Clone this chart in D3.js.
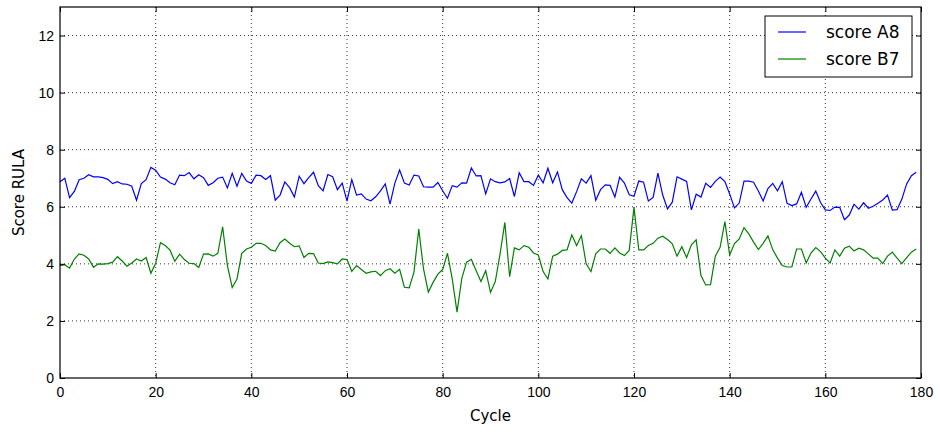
<!DOCTYPE html>
<html lang="en">
<head>
<meta charset="UTF-8">
<title>Score RULA</title>
<script src="https://cdn.jsdelivr.net/npm/d3@7/dist/d3.min.js"></script>
<style>
  body { margin: 0; background: #fff; }
  svg { font-family: "DejaVu Sans", sans-serif; }
  .grid line { stroke: #000; stroke-dasharray: 1,3; stroke-opacity: 0.8; }
</style>
</head>
<body>
<script>
// values
var scoreA8 = [
  6.88, 7.0, 6.32, 6.54, 6.95, 7.0, 7.12, 7.05, 7.05, 7.02,
  6.96, 6.81, 6.88, 6.8, 6.79, 6.72, 6.23, 6.81, 6.95, 7.38,
  7.28, 7.04, 6.97, 6.84, 6.77, 7.11, 7.09, 7.2, 6.98, 7.12,
  7.02, 6.75, 6.84, 7.0, 7.04, 6.66, 7.17, 6.72, 7.17, 6.9,
  6.82, 7.11, 7.09, 6.96, 7.09, 6.23, 6.41, 6.87, 6.67, 6.34,
  7.07, 6.81, 7.02, 7.21, 6.74, 6.56, 7.13, 7.05, 6.6, 6.83,
  6.2, 6.95, 6.41, 6.45, 6.27, 6.21, 6.35, 6.56, 6.8, 6.09,
  6.83, 7.29, 6.83, 6.76, 7.11, 7.08, 6.7, 6.69, 6.69, 6.85,
  6.56, 6.3, 6.74, 6.69, 6.84, 6.83, 7.36, 7.08, 7.09, 6.45,
  6.98, 6.88, 6.84, 6.87, 6.99, 6.36, 7.19, 6.88, 6.88, 6.75,
  7.11, 6.84, 7.35, 6.84, 7.22, 6.6, 6.32, 6.13, 6.53, 6.98,
  6.83, 7.09, 6.23, 6.6, 6.77, 6.75, 6.34, 7.03, 6.83, 6.42,
  6.37, 6.9, 6.86, 6.2, 6.33, 7.18, 6.41, 5.92, 6.16, 7.05,
  6.97, 6.89, 5.89, 6.44, 6.34, 6.82, 6.68, 6.89, 7.04, 6.88,
  6.45, 5.96, 6.13, 6.9, 6.9, 6.86, 6.55, 6.2, 6.64, 6.82,
  6.56, 6.88, 6.12, 6.04, 6.1, 6.51, 5.98, 6.27, 6.55, 6.15,
  5.89, 5.87, 5.99, 5.98, 5.55, 5.71, 6.09, 5.92, 6.14, 5.95,
  6.02, 6.12, 6.24, 6.41, 5.88, 5.9, 6.27, 6.8, 7.09, 7.21
];
var scoreB7 = [
  3.94, 3.97, 3.85, 4.17, 4.35, 4.3, 4.17, 3.88, 4.0, 3.99,
  4.01, 4.06, 4.25, 4.1, 3.92, 4.03, 4.17, 4.1, 4.22, 3.67,
  4.02, 4.74, 4.64, 4.48, 4.09, 4.34, 4.15, 4.02, 4.01, 3.87,
  4.34, 4.35, 4.27, 4.37, 5.3, 3.94, 3.17, 3.47, 4.37, 4.52,
  4.58, 4.72, 4.72, 4.64, 4.49, 4.45, 4.74, 4.87, 4.72, 4.6,
  4.63, 4.22, 4.37, 4.36, 4.03, 4.01, 4.07, 4.04, 4.0, 4.17,
  4.15, 3.74, 3.94, 3.8, 3.67, 3.72, 3.74, 3.59, 3.76, 3.83,
  3.67, 3.81, 3.18, 3.16, 3.71, 5.22, 3.82, 3.01, 3.35, 3.64,
  3.8, 4.37, 3.47, 2.31, 3.49, 4.06, 4.16, 3.76, 3.38, 3.76,
  3.0, 3.38, 4.35, 5.45, 3.55, 4.56, 4.49, 4.64, 4.58, 4.38,
  4.31, 3.73, 3.47, 4.27, 4.34, 4.47, 4.49, 5.01, 4.64, 4.99,
  4.0, 3.73, 4.35, 4.52, 4.52, 4.37, 4.56, 4.38, 4.29, 4.47,
  5.98, 4.49, 4.49, 4.64, 4.72, 4.9, 4.97, 4.85, 4.7, 4.27,
  4.6, 4.22, 4.67, 4.84, 3.59, 3.26, 3.27, 4.27, 4.58, 5.48,
  4.31, 4.71, 4.87, 5.27, 5.05, 4.76, 4.5, 4.72, 4.98, 4.5,
  4.2, 3.94, 3.89, 3.89, 4.52, 4.52, 4.03, 4.38, 4.57, 4.43,
  4.2, 4.03, 4.49, 4.27, 4.55, 4.62, 4.45, 4.55, 4.49, 4.35,
  4.2, 4.2, 4.01, 4.27, 4.41, 4.2, 4.01, 4.22, 4.41, 4.52
];
var seriesNames = ["score A8", "score B7"];
var seriesColors = ["#0000ff", "#008000"];
var xTicks = [0, 20, 40, 60, 80, 100, 120, 140, 160, 180];
var yTicks = [0, 2, 4, 6, 8, 10, 12];

var width = 940, height = 431;
var margin = {top: 7, right: 19, bottom: 53, left: 60};
var w = width - margin.left - margin.right,
    h = height - margin.top - margin.bottom;

var svg = d3.select("body").append("svg")
    .attr("width", width)
    .attr("height", height);

var g = svg.append("g")
    .attr("transform", "translate(" + margin.left + "," + margin.top + ")");

var x = d3.scaleLinear().domain([0, 180]).range([0, w]);
var y = d3.scaleLinear().domain([0, 13]).range([h, 0]);

// dotted grid
g.append("g").attr("class", "grid")
    .selectAll("line").data(xTicks.slice(1, -1)).enter().append("line")
    .attr("x1", function(d) { return x(d); }).attr("x2", function(d) { return x(d); })
    .attr("y1", 0).attr("y2", h);
g.append("g").attr("class", "grid")
    .selectAll("line").data(yTicks.slice(1)).enter().append("line")
    .attr("y1", function(d) { return y(d); }).attr("y2", function(d) { return y(d); })
    .attr("x1", 0).attr("x2", w);

// lines
var line = d3.line()
    .x(function(d, i) { return x(i); })
    .y(function(d) { return y(d); });

[scoreA8, scoreB7].forEach(function(s, k) {
    g.append("path")
        .datum(s)
        .attr("fill", "none")
        .attr("stroke", seriesColors[k])
        .attr("stroke-width", 1.2)
        .attr("d", line);
});

// axes, classic style: ticks pointing in, on all four sides
function styleAxis(sel) {
    sel.select(".domain").remove();
    sel.selectAll("text").attr("fill", "#000").style("font-size", "14px");
    sel.selectAll("line").attr("stroke", "#000");
}
g.append("g").attr("transform", "translate(0," + h + ")")
    .call(d3.axisBottom(x).tickValues(xTicks).tickSizeInner(-5).tickPadding(9))
    .call(styleAxis);
g.append("g")
    .call(d3.axisTop(x).tickValues(xTicks).tickSizeInner(-5).tickFormat(""))
    .call(styleAxis);
g.append("g")
    .call(d3.axisLeft(y).tickValues(yTicks).tickSizeInner(-5).tickPadding(6))
    .call(styleAxis);
g.append("g").attr("transform", "translate(" + w + ",0)")
    .call(d3.axisRight(y).tickValues(yTicks).tickSizeInner(-5).tickFormat(""))
    .call(styleAxis);

g.append("rect")
    .attr("width", w).attr("height", h)
    .attr("fill", "none").attr("stroke", "#000").attr("stroke-width", 1.2);

// axis labels
svg.append("text")
    .attr("x", margin.left + w / 2).attr("y", 421)
    .attr("text-anchor", "middle").style("font-size", "15px")
    .text("Cycle");
svg.append("text")
    .attr("transform", "translate(24," + (margin.top + h / 2) + ") rotate(-90)")
    .attr("text-anchor", "middle").style("font-size", "15px")
    .text("Score RULA");

// legend
var lg = svg.append("g").attr("transform", "translate(765,16)");
lg.append("rect")
    .attr("width", 147).attr("height", 61)
    .attr("fill", "#fff").attr("stroke", "#000").attr("stroke-width", 1);
seriesNames.forEach(function(name, k) {
    var yy = 16 + k * 27;
    lg.append("line")
        .attr("x1", 13).attr("x2", 41).attr("y1", yy).attr("y2", yy)
        .attr("stroke", seriesColors[k]).attr("stroke-width", 1.2);
    lg.append("text")
        .attr("x", 61).attr("y", yy + 6)
        .style("font-size", "17px")
        .text(name);
});
</script>
</body>
</html>
